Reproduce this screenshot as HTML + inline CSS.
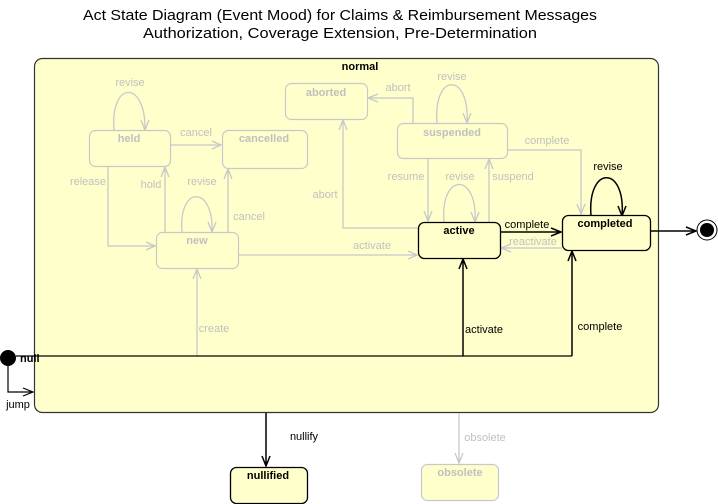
<!DOCTYPE html>
<html><head><meta charset="utf-8"><style>
html,body{margin:0;padding:0;background:#fff;}
svg{display:block;font-family:"Liberation Sans",Arial,sans-serif;}
.g{stroke:#c8c8c8;fill:none;stroke-width:1.3}
.k{stroke:#000;fill:none;stroke-width:1.5}
.gb{fill:#ffffcc;stroke:#c8c8c8;stroke-width:1.2}
.kb{fill:#ffffcc;stroke:#000;stroke-width:1.3}
.gt{fill:#c0c0c0;font-size:11px}
.kt{fill:#000;font-size:11px}
.gn{fill:#c0c0c0;font-size:11px;font-weight:bold}
.kn{fill:#000;font-size:11px;font-weight:bold}
</style></head><body>
<svg width="718" height="504" viewBox="0 0 718 504">
<text x="340" y="20" text-anchor="middle" font-size="15" textLength="514" lengthAdjust="spacingAndGlyphs">Act State Diagram (Event Mood) for Claims &amp; Reimbursement Messages</text>
<text x="340" y="38" text-anchor="middle" font-size="15" textLength="394" lengthAdjust="spacingAndGlyphs">Authorization, Coverage Extension, Pre-Determination</text>
<rect x="34.5" y="58.5" width="624" height="354" rx="8" fill="#ffffcc" stroke="#333" stroke-width="1.2"/>
<text x="360" y="70" class="kn" text-anchor="middle">normal</text>

<!-- gray connectors -->
<path class="g" d="M114,130 C110,80 146,80 145,130 M141,120 L145,130 L149,120"/>
<text x="130" y="86" class="gt" text-anchor="middle">revise</text>
<path class="g" d="M170,145 H221 M212,141 L221,145 L212,149"/>
<text x="196" y="136" class="gt" text-anchor="middle">cancel</text>
<path class="g" d="M108,166 V246 H155 M146,242 L155,246 L146,250"/>
<text x="88" y="185" class="gt" text-anchor="middle">release</text>
<path class="g" d="M165,232 V167 M161,177 L165,167 L169,177"/>
<text x="151" y="188" class="gt" text-anchor="middle">hold</text>
<path class="g" d="M182,232 C178,185 214,185 212,232 M208,222 L212,232 L216,222"/>
<text x="202" y="185" class="gt" text-anchor="middle">revise</text>
<path class="g" d="M228,232 V169 M224,179 L228,169 L232,179"/>
<text x="249" y="220" class="gt" text-anchor="middle">cancel</text>
<path class="g" d="M238,255 H417 M408,251 L417,255 L408,259"/>
<text x="372" y="249" class="gt" text-anchor="middle">activate</text>
<path class="g" d="M197,356 V269 M193,279 L197,269 L201,279"/>
<text x="214" y="332" class="gt" text-anchor="middle">create</text>
<path class="g" d="M418,228 H343 V120 M339,130 L343,120 L347,130"/>
<text x="325" y="198" class="gt" text-anchor="middle">abort</text>
<path class="g" d="M413,123 V98 H368 M378,94 L368,98 L378,102"/>
<text x="398" y="91" class="gt" text-anchor="middle">abort</text>
<path class="g" d="M437,123 C433,72 470,72 467,123 M463,113 L467,123 L471,113"/>
<text x="452" y="80" class="gt" text-anchor="middle">revise</text>
<path class="g" d="M507,150 H581 V214 M577,204 L581,214 L585,204"/>
<text x="547" y="144" class="gt" text-anchor="middle">complete</text>
<path class="g" d="M428,158 V221 M424,211 L428,221 L432,211"/>
<text x="406" y="180" class="gt" text-anchor="middle">resume</text>
<path class="g" d="M489,222 V159 M485,169 L489,159 L493,169"/>
<text x="513" y="180" class="gt" text-anchor="middle">suspend</text>
<path class="g" d="M444,222 C440,172 478,172 475,222 M471,212 L475,222 L479,212"/>
<text x="460" y="180" class="gt" text-anchor="middle">revise</text>
<path class="g" d="M562,248 H501 M511,244 L501,248 L511,252"/>
<text x="533" y="245" class="gt" text-anchor="middle">reactivate</text>
<path class="g" d="M459,413 V463 M455,453 L459,463 L463,453"/>
<text x="485" y="441" class="gt" text-anchor="middle">obsolete</text>

<!-- black connectors -->
<path class="k" d="M500,232 H561 M551,228 L561,232 L551,236"/>
<text x="527" y="228" class="kt" text-anchor="middle">complete</text>
<path class="k" d="M591,216 C587,165 626,165 622,216 M618,206 L622,216 L626,206"/>
<text x="608" y="170" class="kt" text-anchor="middle">revise</text>
<path class="k" d="M650,231 H696 M686,227 L696,231 L686,235"/>
<path class="k" d="M16,356 H572" style="stroke-width:1.3"/>
<path class="k" d="M463,356 V259 M459,269 L463,259 L467,269"/>
<text x="484" y="333" class="kt" text-anchor="middle">activate</text>
<path class="k" d="M572,356 V251 M568,261 L572,251 L576,261"/>
<text x="600" y="330" class="kt" text-anchor="middle">complete</text>
<path class="k" d="M8,364 V392 H33 M23,388 L33,392 L23,396" style="stroke-width:1.2"/>
<text x="18" y="408" class="kt" text-anchor="middle">jump</text>
<path class="k" d="M266,413 V466 M262,456 L266,466 L270,456"/>
<text x="304" y="440" class="kt" text-anchor="middle">nullify</text>
<circle cx="8" cy="358" r="8" fill="#000"/>
<text x="20" y="362" class="kn">null</text>
<circle cx="707" cy="230" r="10" fill="#fff" stroke="#000" stroke-width="1"/>
<circle cx="707" cy="230" r="7" fill="#000"/>

<!-- states -->
<rect class="gb" x="89.5" y="130.5" width="81" height="36" rx="6"/><text x="129" y="142" class="gn" text-anchor="middle">held</text>
<rect class="gb" x="222.5" y="130.5" width="85" height="38" rx="6"/><text x="264" y="142" class="gn" text-anchor="middle">cancelled</text>
<rect class="gb" x="156.5" y="232.5" width="82" height="36" rx="6"/><text x="197" y="244" class="gn" text-anchor="middle">new</text>
<rect class="gb" x="285.5" y="83.5" width="82" height="36" rx="6"/><text x="326" y="96" class="gn" text-anchor="middle">aborted</text>
<rect class="gb" x="397.5" y="123.5" width="110" height="35" rx="6"/><text x="452" y="136" class="gn" text-anchor="middle">suspended</text>
<rect class="kb" x="418.5" y="222.5" width="82" height="36" rx="6"/><text x="459" y="234" class="kn" text-anchor="middle">active</text>
<rect class="kb" x="562.5" y="215.5" width="88" height="35" rx="6"/><text x="605" y="227" class="kn" text-anchor="middle">completed</text>
<rect class="kb" x="230.5" y="467.5" width="77" height="36" rx="6"/><text x="268" y="479" class="kn" text-anchor="middle">nullified</text>
<rect class="gb" x="421.5" y="464.5" width="77" height="36" rx="6"/><text x="460" y="476" class="gn" text-anchor="middle">obsolete</text>
</svg>
</body></html>
